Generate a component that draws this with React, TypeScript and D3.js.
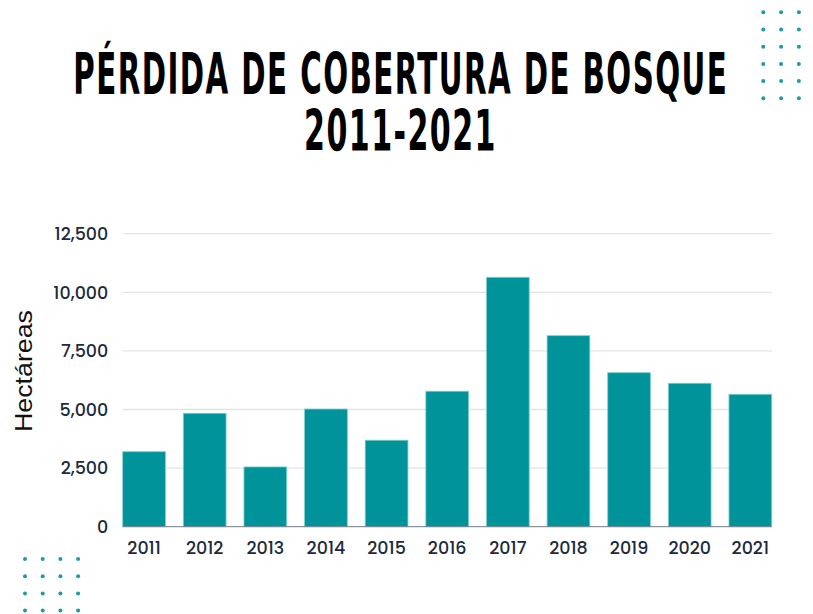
import React from "react";
import * as d3 from "d3";

const years = ["2011","2012","2013","2014","2015","2016","2017","2018","2019","2020","2021"];
const hectares = [3200, 4840, 2550, 5020, 3690, 5780, 10640, 8150, 6570, 6120, 5650];
const yTicks = [0, 2500, 5000, 7500, 10000, 12500];
const titleLines = ["PÉRDIDA DE COBERTURA DE BOSQUE", "2011-2021"];
const yLabel = "Hectáreas";

const W = 813, H = 614;
const M = { left: 122.7, right: 771.7, top: 233.7, bottom: 526.7 };
const TEAL = "#00939a";
const DOT = "#1c9ca1";
const LABEL_FONT = "Poppins, 'Noto Sans', 'Open Sans', sans-serif";
const TITLE_FONT = "'DejaVu Sans Condensed', 'DejaVu Sans', sans-serif";

export default function App() {
  const x = d3.scaleBand<string>().domain(years).range([M.left, M.right]).paddingInner(0.295).paddingOuter(0);
  const y = d3.scaleLinear().domain([0, 12500]).range([M.bottom, M.top]);

  // decorative dot grids
  const dotsTR = d3.cross(d3.range(3), d3.range(6));
  const dotsBL = d3.cross(d3.range(4), d3.range(4));

  const titleStyle = { fontFamily: TITLE_FONT, fontWeight: 700, fontSize: 57, fill: "#000", letterSpacing: "2.5px" } as React.CSSProperties;

  return (
    <div style={{ position: "fixed", left: 0, top: 0 }}>
      <svg width={W} height={H} style={{ display: "block", background: "#fff" }}>
        {dotsTR.map(([c, r], i) => (
          <circle key={"tr" + i} cx={763.3 + c * 17.8} cy={12.3 + r * 17.2} r={2} fill={DOT} />
        ))}
        {dotsBL.map(([c, r], i) => (
          <circle key={"bl" + i} cx={25 + c * 17.7} cy={559 + r * 17.2} r={2} fill={DOT} />
        ))}

        <text x={73.3} y={94.3} textLength={655} lengthAdjust="spacingAndGlyphs" style={titleStyle}>
          {titleLines[0]}
        </text>
        <text x={304} y={151} textLength={193} lengthAdjust="spacingAndGlyphs" style={titleStyle}>
          {titleLines[1]}
        </text>

        {yTicks.filter(t => t > 0).map(t => (
          <line key={"g" + t} x1={M.left} x2={M.right} y1={y(t)} y2={y(t)} stroke="#e2e4e7" strokeWidth={1.3} />
        ))}

        {years.map((yr, i) => (
          <rect key={yr} x={x(yr)} y={y(hectares[i])} width={x.bandwidth()} height={y(0) - y(hectares[i])}
            fill={TEAL} stroke="#7fcfd0" strokeWidth={0.8} />
        ))}

        <line x1={M.left} x2={M.right} y1={y(0)} y2={y(0)} stroke="#6f7a86" strokeWidth={1} />

        {yTicks.map(t => (
          <text key={"t" + t} x={108.3} y={y(t)} dy="0.36em" textAnchor="end"
            style={{ fontFamily: LABEL_FONT, fontWeight: 500, fontSize: 17.5, fill: "#1d2b3c" }}>
            {d3.format(",")(t)}
          </text>
        ))}

        {years.map(yr => (
          <text key={"x" + yr} x={(x(yr) as number) + x.bandwidth() / 2} y={554} textAnchor="middle"
            style={{ fontFamily: LABEL_FONT, fontWeight: 500, fontSize: 17.5, fill: "#1d2b3c" }}>
            {yr}
          </text>
        ))}

        <text transform={`translate(31.5,371) rotate(-90)`} textAnchor="middle" textLength={122} lengthAdjust="spacingAndGlyphs"
          style={{ fontFamily: "'Liberation Sans', Arial, sans-serif", fontSize: 24, fill: "#111" }}>
          {yLabel}
        </text>
      </svg>
    </div>
  );
}
